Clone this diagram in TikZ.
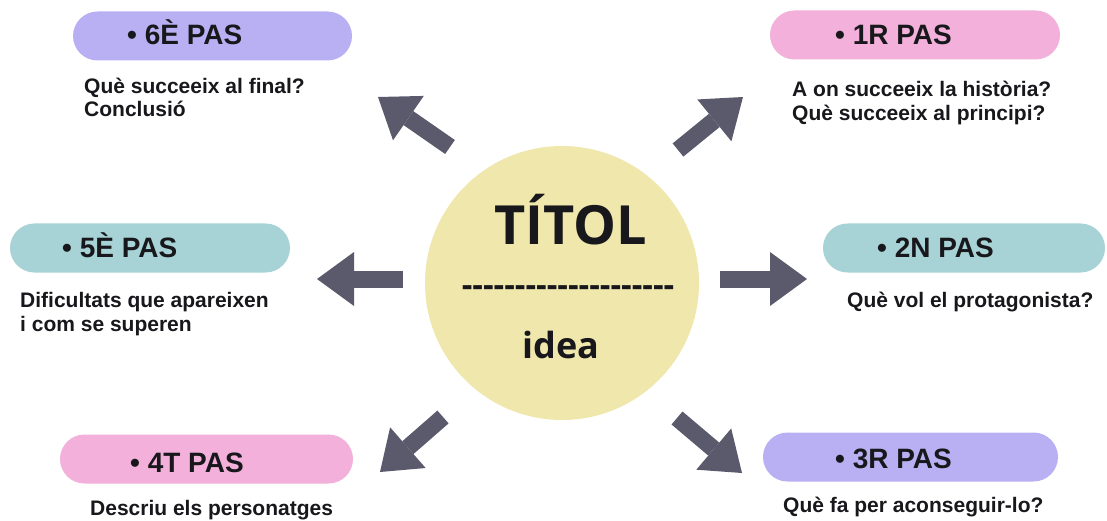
\documentclass[tikz,border=0pt]{standalone}
\usepackage{fontspec}
\setmainfont{Liberation Sans}
\newfontfamily\titolfont{Open Sans}
\usetikzlibrary{arrows.meta}

\definecolor{lavpas}{RGB}{185,176,243}
\definecolor{pinkpas}{RGB}{242,176,218}
\definecolor{tealpas}{RGB}{167,211,214}
\definecolor{titolyellow}{RGB}{240,231,172}
\definecolor{arrowgray}{RGB}{91,90,108}
\definecolor{inkblack}{RGB}{24,24,28}

\tikzset{
  pill/.style={rounded corners=24.5pt, minimum height=49pt, inner sep=0pt},
  pastitle/.style={anchor=base west, inner sep=0pt, text=inkblack,
    font=\fontsize{28}{30}\selectfont\bfseries},
  pasdesc/.style={anchor=base west, inner sep=0pt, align=left, text=inkblack,
    font=\fontsize{21}{23.5}\selectfont\bfseries},
  bigarrow/.style={->, draw=arrowgray, line width=17pt, line cap=butt}
}

\begin{document}
\begin{tikzpicture}[x=1pt, y=-1pt, line join=miter,
    >={Triangle[width=54pt, length=37pt, line width=0pt]}]
  \useasboundingbox[fill=white] (0,0) rectangle (1107,521);
  %--- centre
    \node[circle, fill=titolyellow, minimum size=274pt, inner sep=0pt] (centre) at (562,283) {};
    \node[inner sep=0pt, text=inkblack, font=\titolfont\fontsize{54}{54}\selectfont\bfseries] (titol) at (571,220) {TÍTOL};
    \node[anchor=base, inner sep=0pt, text=inkblack, font=\titolfont\fontsize{33}{33}\selectfont\bfseries] (ratlla) at (568,296)
      {-{}-{}-{}-{}-{}-{}-{}-{}-{}-{}-{}-{}-{}-{}-{}-{}-{}-{}-{}-};
    \node[inner sep=0pt, text=inkblack, font=\titolfont\fontsize{36}{36}\selectfont\bfseries] (idea) at (561,345) {idea};
  %--- 1R PAS
    \node[pill, fill=pinkpas, minimum width=290pt] (pas1) at (915,35) {};
    \node[pastitle] (tit1) at (835,45) {• 1R PAS};
    \node[pasdesc] (desc1) at (792,120.5) {A on succeeix la història?\\Què succeeix al principi?};
  %--- 2N PAS
    \node[pill, fill=tealpas, minimum width=282pt] (pas2) at (964,248) {};
    \node[pastitle] (tit2) at (877,257) {• 2N PAS};
    \node[pasdesc] (desc2) at (847,307) {Què vol el protagonista?};
  %--- 3R PAS
    \node[pill, fill=lavpas, minimum width=295pt] (pas3) at (910.5,457) {};
    \node[pastitle] (tit3) at (835,468) {• 3R PAS};
    \node[pasdesc] (desc3) at (783,512) {Què fa per aconseguir-lo?};
  %--- 4T PAS
    \node[pill, fill=pinkpas, minimum width=293pt] (pas4) at (206.5,459) {};
    \node[pastitle] (tit4) at (130,472) {• 4T PAS};
    \node[pasdesc] (desc4) at (90,515) {Descriu els personatges};
  %--- 5È PAS
    \node[pill, fill=tealpas, minimum width=280pt] (pas5) at (150,248) {};
    \node[pastitle] (tit5) at (62,257) {• 5È PAS};
    \node[pasdesc] (desc5) at (20,331) {Dificultats que apareixen\\i com se superen};
  %--- 6È PAS
    \node[pill, fill=lavpas, minimum width=279pt] (pas6) at (212.5,36) {};
    \node[pastitle] (tit6) at (127,45) {• 6È PAS};
    \node[pasdesc] (desc6) at (84,117) {Què succeeix al final?\\Conclusió};
  %--- arrows
    \coordinate (from1) at (678,150); \coordinate (to1) at (743,97);
    \coordinate (from2) at (720,279); \coordinate (to2) at (807,279);
    \coordinate (from3) at (677,418); \coordinate (to3) at (742,473);
    \coordinate (from4) at (443,417); \coordinate (to4) at (380,472);
    \coordinate (from5) at (403,279); \coordinate (to5) at (317,279);
    \coordinate (from6) at (450,147); \coordinate (to6) at (378,97);
    \draw[bigarrow] (from1) -- (to1);
    \draw[bigarrow] (from2) -- (to2);
    \draw[bigarrow] (from3) -- (to3);
    \draw[bigarrow] (from4) -- (to4);
    \draw[bigarrow] (from5) -- (to5);
    \draw[bigarrow] (from6) -- (to6);
\end{tikzpicture}
\end{document}
